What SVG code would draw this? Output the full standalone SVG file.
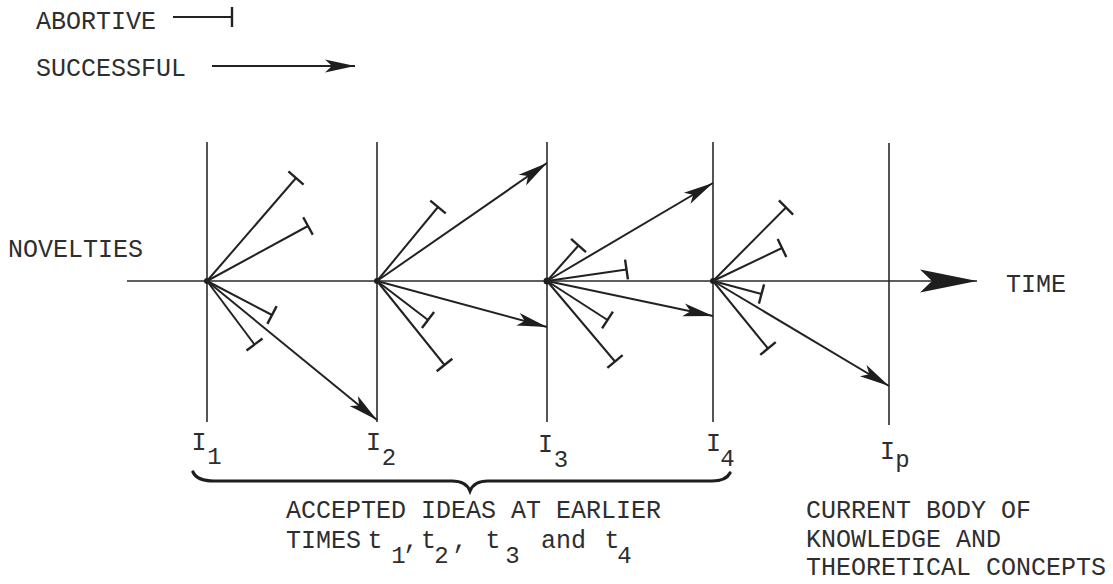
<svg xmlns="http://www.w3.org/2000/svg" width="1113" height="584" viewBox="0 0 1113 584">
<style>
.t{font-family:"Liberation Mono","DejaVu Sans Mono",monospace;font-size:25px;fill:#2e2e2e}
.s{font-size:24px}
.v{stroke:#2a2a2a;stroke-width:1.6;fill:none}
.ab{stroke:#222;stroke-width:2;fill:none;marker-end:url(#bar)}
.su{stroke:#222;stroke-width:2;fill:none;marker-end:url(#arr)}
.ax{stroke:#2a2a2a;stroke-width:1.6;fill:none}
.br{stroke:#1e1e1e;stroke-width:3.2;fill:none;stroke-linecap:round}
</style>
<defs>
<marker id="bar" markerUnits="userSpaceOnUse" markerWidth="20" markerHeight="24" refX="1" refY="11" orient="auto" overflow="visible">
<path d="M1,1 L1,21" stroke="#222" stroke-width="2.4" fill="none"/>
</marker>
<marker id="arr" markerUnits="userSpaceOnUse" markerWidth="32" markerHeight="14" refX="30" refY="7" orient="auto" overflow="visible">
<path d="M0,0.5 L30,7 L0,13.5 L7,7 Z" fill="#1e1e1e"/>
</marker>
<marker id="big" markerUnits="userSpaceOnUse" markerWidth="58" markerHeight="24" refX="57" refY="12" orient="auto" overflow="visible">
<path d="M0,0.5 L57,12 L0,23.5 L12,12 Z" fill="#1e1e1e"/>
</marker>
</defs>

<g id="legend">
<text class="t" x="36" y="29">ABORTIVE</text>
<line class="ab" x1="173" y1="17" x2="232" y2="17"/>
<text class="t" x="36" y="76">SUCCESSFUL</text>
<line class="su" x1="212" y1="66" x2="355" y2="66"/>
</g>

<g id="time-axis">
<text class="t" x="8" y="257">NOVELTIES</text>
<line class="ax" x1="127" y1="281" x2="977" y2="281" style="marker-end:url(#big)"/>
<text class="t" x="1006" y="292">TIME</text>
</g>

<g id="I1">
<line class="v" x1="207" y1="142" x2="207" y2="422"/>
<text class="t" y="450"><tspan x="199" text-anchor="middle">I</tspan><tspan class="s" x="214.5" dy="14" text-anchor="middle">1</tspan></text>
</g>
<g id="I2">
<line class="v" x1="377" y1="142" x2="377" y2="422"/>
<text class="t" y="450"><tspan x="373.5" text-anchor="middle">I</tspan><tspan class="s" x="389" dy="15" text-anchor="middle">2</tspan></text>
</g>
<g id="I3">
<line class="v" x1="547" y1="142" x2="547" y2="422"/>
<text class="t" y="452"><tspan x="545.5" text-anchor="middle">I</tspan><tspan class="s" x="561" dy="15" text-anchor="middle">3</tspan></text>
</g>
<g id="I4">
<line class="v" x1="713" y1="142" x2="713" y2="422"/>
<text class="t" y="451"><tspan x="713.5" text-anchor="middle">I</tspan><tspan class="s" x="727.5" dy="15" text-anchor="middle">4</tspan></text>
</g>
<g id="Ip">
<line class="v" x1="889" y1="143" x2="889" y2="425"/>
<text class="t" y="459"><tspan x="887.5" text-anchor="middle">I</tspan><tspan class="s" x="902.5" dy="8" text-anchor="middle">p</tspan></text>
</g>

<g id="connectors">
<circle cx="207" cy="281" r="3" fill="#1e1e1e"/>
<circle cx="377" cy="281" r="3" fill="#1e1e1e"/>
<circle cx="547" cy="281" r="3.5" fill="#1e1e1e"/>
<circle cx="713" cy="281" r="3" fill="#1e1e1e"/>
<line class="ab" x1="207" y1="281" x2="296" y2="178"/>
<line class="ab" x1="207" y1="281" x2="308" y2="226"/>
<line class="ab" x1="207" y1="281" x2="272" y2="315"/>
<line class="ab" x1="207" y1="281" x2="254.5" y2="344.5"/>
<line class="su" x1="207" y1="281" x2="377" y2="420"/>

<line class="ab" x1="377" y1="281" x2="438" y2="207"/>
<line class="ab" x1="377" y1="281" x2="428" y2="320"/>
<line class="ab" x1="377" y1="281" x2="444.5" y2="365"/>
<line class="su" x1="377" y1="281" x2="547" y2="163"/>
<line class="su" x1="377" y1="281" x2="547" y2="327"/>

<line class="ab" x1="547" y1="281" x2="578.5" y2="245.5"/>
<line class="ab" x1="547" y1="281" x2="626.5" y2="269.5"/>
<line class="ab" x1="547" y1="281" x2="607.5" y2="320"/>
<line class="ab" x1="547" y1="281" x2="615" y2="361.5"/>
<line class="su" x1="547" y1="281" x2="713" y2="183"/>
<line class="su" x1="547" y1="281" x2="713" y2="316"/>

<line class="ab" x1="713" y1="281" x2="786" y2="207.5"/>
<line class="ab" x1="713" y1="281" x2="782" y2="248"/>
<line class="ab" x1="713" y1="281" x2="761.5" y2="294"/>
<line class="ab" x1="713" y1="281" x2="768" y2="348.5"/>
<line class="su" x1="713" y1="281" x2="889" y2="386"/>
</g>

<g id="accepted-ideas">
<path class="br" d="M193,472 Q197,481 214,481 L452,481 Q466,481 470,491 Q474,481 488,481 L712,481 Q726,481 730,473"/>
<text class="t" x="286" y="518">ACCEPTED IDEAS AT EARLIER</text>
<text class="t" y="548"><tspan x="286">TIMES</tspan><tspan x="375" text-anchor="middle">t</tspan><tspan class="s" x="398.5" dy="15" text-anchor="middle">1</tspan><tspan x="411" dy="-15" text-anchor="middle">,</tspan><tspan x="428.5" text-anchor="middle">t</tspan><tspan class="s" x="441.5" dy="15" text-anchor="middle">2</tspan><tspan x="460" dy="-15" text-anchor="middle">,</tspan><tspan x="493" text-anchor="middle">t</tspan><tspan class="s" x="512.5" dy="15" text-anchor="middle">3</tspan><tspan x="541" dy="-15">and</tspan><tspan x="612" text-anchor="middle">t</tspan><tspan class="s" x="624.5" dy="15" text-anchor="middle">4</tspan></text>
</g>

<g id="current-body">
<text class="t" x="806" y="518">CURRENT BODY OF</text>
<text class="t" x="806" y="547">KNOWLEDGE AND</text>
<text class="t" x="806" y="575">THEORETICAL CONCEPTS</text>
</g>
</svg>
